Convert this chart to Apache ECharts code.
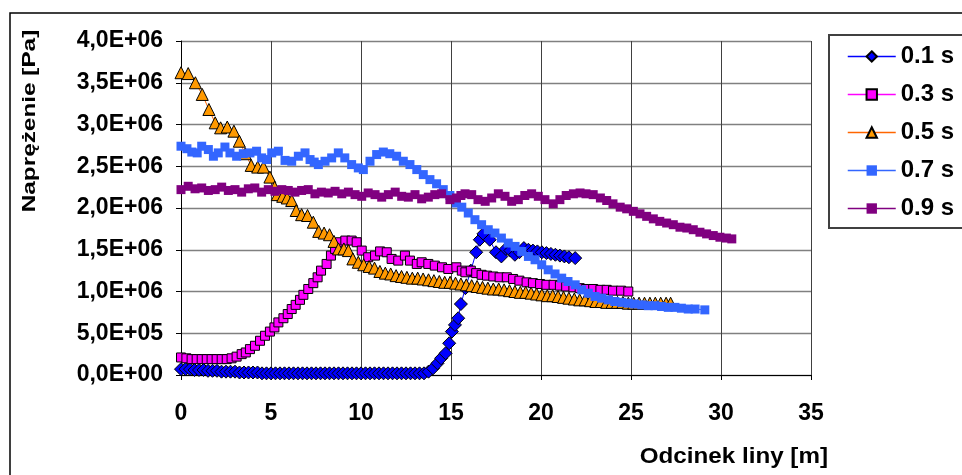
<!DOCTYPE html>
<html><head><meta charset="utf-8">
<script src="https://cdn.jsdelivr.net/npm/echarts@6/dist/echarts.min.js"></script>
<style>html,body{margin:0;padding:0;background:#fff}#c{width:962px;height:475px}</style>
</head><body><div id="c"></div>
<script>
// Values: [position along rope (m), stress (x1E+06 Pa)]
const seriesNames = ['0.1 s', '0.3 s', '0.5 s', '0.7 s', '0.9 s'];
const xTickValues = [0, 5, 10, 15, 20, 25, 30, 35];
const yTickValues = [0, 0.5, 1, 1.5, 2, 2.5, 3, 3.5, 4];

const s01 = [[0,0.07],[0.25,0.07],[0.5,0.07],[0.75,0.06],[1,0.06],[1.25,0.06],[1.5,0.05],[1.75,0.05],[2,0.05],[2.25,0.04],[2.5,0.04],[2.75,0.04],[3,0.04],[3.25,0.03],[3.5,0.03],[3.75,0.03],[4,0.03],[4.25,0.03],[4.5,0.02],[4.75,0.02],[5,0.02],[5.25,0.02],[5.5,0.02],[5.75,0.02],[6,0.02],[6.25,0.02],[6.5,0.02],[6.75,0.02],[7,0.02],[7.25,0.02],[7.5,0.02],[7.75,0.02],[8,0.02],[8.25,0.02],[8.5,0.02],[8.75,0.02],[9,0.02],[9.25,0.02],[9.5,0.02],[9.75,0.02],[10,0.02],[10.25,0.02],[10.5,0.02],[10.75,0.02],[11,0.02],[11.25,0.02],[11.5,0.02],[11.75,0.02],[12,0.02],[12.25,0.02],[12.5,0.02],[12.75,0.02],[13,0.02],[13.25,0.02],[13.5,0.02],[13.75,0.04],[14,0.08],[14.25,0.14],[14.45,0.2],[14.7,0.26],[14.9,0.38],[15.05,0.52],[15.22,0.6],[15.4,0.68],[15.55,0.85],[15.8,1.04],[16.1,1.25],[16.4,1.47],[16.6,1.62],[16.8,1.69],[17.15,1.62],[17.5,1.47],[17.8,1.42],[18.05,1.51],[18.3,1.49],[18.55,1.44],[18.8,1.47],[19.05,1.52],[19.3,1.5],[19.55,1.49],[19.8,1.48],[20.05,1.47],[20.3,1.46],[20.55,1.45],[20.8,1.44],[21.05,1.43],[21.3,1.42],[21.55,1.41],[21.9,1.4]];

const s03 = [[0,0.21],[0.3,0.2],[0.59,0.19],[0.87,0.19],[1.15,0.19],[1.43,0.19],[1.7,0.19],[1.98,0.19],[2.26,0.19],[2.54,0.19],[2.81,0.2],[3.09,0.22],[3.37,0.25],[3.6,0.27],[3.83,0.31],[4.11,0.35],[4.39,0.41],[4.67,0.47],[4.94,0.52],[5.19,0.57],[5.41,0.63],[5.69,0.68],[5.93,0.73],[6.15,0.79],[6.37,0.84],[6.61,0.9],[6.8,0.96],[7.07,1.03],[7.35,1.1],[7.59,1.17],[7.78,1.25],[8.09,1.33],[8.33,1.43],[8.56,1.51],[8.83,1.59],[9.13,1.61],[9.48,1.61],[9.76,1.59],[10.04,1.49],[10.4,1.41],[10.78,1.43],[11.06,1.48],[11.43,1.47],[11.7,1.39],[12.07,1.37],[12.44,1.43],[12.72,1.37],[13.1,1.33],[13.37,1.35],[13.74,1.33],[14.1,1.31],[14.5,1.29],[14.85,1.27],[15.3,1.29],[15.6,1.25],[15.8,1.23],[16.1,1.25],[16.4,1.22],[16.7,1.2],[17,1.19],[17.35,1.18],[17.7,1.17],[18.1,1.17],[18.45,1.15],[18.8,1.13],[19.2,1.11],[19.55,1.1],[19.95,1.09],[20.3,1.08],[20.7,1.08],[21.05,1.07],[21.4,1.06],[21.8,1.05],[22.15,1.04],[22.5,1.03],[22.9,1.03],[23.3,1.02],[23.65,1.02],[24,1.01],[24.45,1.01],[24.85,1]];

const s05 = [[0,3.62],[0.4,3.61],[0.8,3.5],[1.18,3.36],[1.55,3.18],[1.9,3.02],[2.2,2.96],[2.57,2.97],[2.94,2.92],[3.24,2.8],[3.57,2.65],[3.9,2.51],[4.26,2.49],[4.58,2.49],[4.94,2.37],[5.2,2.25],[5.35,2.16],[5.65,2.14],[5.9,2.12],[6.15,2.09],[6.4,1.97],[6.7,1.92],[7.03,1.91],[7.35,1.83],[7.65,1.72],[7.95,1.7],[8.25,1.68],[8.5,1.6],[8.75,1.51],[9.05,1.51],[9.3,1.49],[9.55,1.39],[9.85,1.35],[10.15,1.32],[10.45,1.3],[10.75,1.28],[11.05,1.24],[11.35,1.22],[11.65,1.21],[11.95,1.19],[12.25,1.18],[12.55,1.17],[12.85,1.16],[13.15,1.16],[13.45,1.15],[13.75,1.14],[14.05,1.13],[14.35,1.12],[14.65,1.11],[14.95,1.11],[15.25,1.1],[15.55,1.09],[15.85,1.08],[16.15,1.07],[16.45,1.06],[16.75,1.05],[17.05,1.04],[17.35,1.03],[17.65,1.03],[17.95,1.02],[18.25,1.01],[18.55,1],[18.85,0.99],[19.15,0.99],[19.45,0.98],[19.75,0.97],[20.05,0.96],[20.35,0.95],[20.65,0.95],[20.95,0.94],[21.25,0.93],[21.55,0.92],[21.85,0.91],[22.15,0.9],[22.45,0.9],[22.75,0.89],[23.05,0.88],[23.35,0.88],[23.65,0.87],[23.95,0.87],[24.25,0.87],[24.55,0.87],[24.85,0.86],[25.15,0.86],[25.45,0.86],[25.75,0.86],[26.05,0.86],[26.35,0.86],[26.65,0.86],[26.95,0.86],[27.2,0.86]];

const s07 = [[0,2.74],[0.33,2.71],[0.6,2.67],[0.9,2.66],[1.15,2.74],[1.52,2.7],[1.8,2.62],[2.07,2.66],[2.44,2.73],[2.72,2.66],[3.09,2.62],[3.46,2.65],[3.83,2.66],[4.2,2.68],[4.48,2.6],[4.76,2.58],[5.04,2.66],[5.41,2.68],[5.78,2.57],[6.15,2.56],[6.52,2.62],[6.89,2.66],[7.17,2.58],[7.4,2.55],[7.63,2.52],[8,2.56],[8.37,2.6],[8.74,2.66],[9.1,2.6],[9.48,2.52],[9.85,2.48],[10.13,2.46],[10.5,2.56],[10.87,2.64],[11.24,2.67],[11.6,2.65],[11.98,2.62],[12.35,2.56],[12.72,2.52],[13.1,2.46],[13.46,2.4],[13.83,2.34],[14.2,2.29],[14.57,2.22],[14.94,2.15],[15.3,2.06],[15.6,2.01],[15.96,1.94],[16.33,1.86],[16.7,1.8],[17.07,1.74],[17.44,1.7],[17.8,1.64],[18.18,1.58],[18.56,1.54],[18.93,1.48],[19.3,1.42],[19.67,1.38],[20.04,1.32],[20.4,1.26],[20.78,1.21],[21.15,1.16],[21.5,1.12],[21.9,1.08],[22.26,1.02],[22.63,0.98],[23,0.94],[23.37,0.92],[23.74,0.9],[24.1,0.88],[24.48,0.87],[24.85,0.86],[25.2,0.85],[25.6,0.84],[25.96,0.83],[26.33,0.83],[26.7,0.82],[27.07,0.81],[27.44,0.81],[27.8,0.8],[28.18,0.79],[28.56,0.79],[29.1,0.78]];

const s09 = [[0,2.22],[0.4,2.26],[0.78,2.23],[1.15,2.24],[1.52,2.21],[1.9,2.22],[2.26,2.25],[2.63,2.21],[3,2.22],[3.37,2.19],[3.74,2.23],[4.1,2.24],[4.48,2.19],[4.85,2.22],[5.22,2.2],[5.6,2.22],[5.96,2.21],[6.33,2.19],[6.7,2.21],[7.07,2.22],[7.44,2.17],[7.8,2.19],[8.18,2.18],[8.56,2.2],[8.93,2.17],[9.3,2.19],[9.67,2.16],[10.04,2.14],[10.4,2.18],[10.78,2.16],[11.15,2.13],[11.52,2.16],[11.9,2.19],[12.26,2.14],[12.63,2.13],[13,2.16],[13.37,2.11],[13.74,2.13],[14.1,2.16],[14.48,2.17],[14.94,2.1],[15.3,2.12],[15.55,2.15],[15.78,2.17],[16.15,2.16],[16.5,2.1],[16.9,2.08],[17.26,2.12],[17.63,2.17],[18,2.14],[18.37,2.08],[18.74,2.1],[19.1,2.15],[19.48,2.17],[19.85,2.14],[20.22,2.1],[20.68,2.05],[21.05,2.1],[21.4,2.15],[21.8,2.17],[22.17,2.18],[22.5,2.17],[22.9,2.16],[23.3,2.12],[23.65,2.09],[24,2.05],[24.4,2.01],[24.76,1.99],[25.13,1.96],[25.5,1.93],[25.87,1.9],[26.24,1.87],[26.6,1.84],[26.98,1.82],[27.35,1.8],[27.72,1.77],[28.1,1.76],[28.46,1.74],[28.83,1.71],[29.2,1.69],[29.57,1.67],[29.94,1.65],[30.3,1.64],[30.6,1.63]];

const seriesData = [s01, s03, s05, s07, s09];
const symbols = ['diamond', 'rect', 'triangle', 'rect', 'rect'];
const symbolSizes = [13, 9, 12, 9, 9];
const fillColors = ['#0000FF', '#FF00FF', '#FF9900', '#3366FF', '#800080'];
const lineColors = ['#0000FF', '#FF00FF', '#FF6600', '#3366FF', '#800080'];
const borderWidths = [1, 1, 1, 0, 0];

const FONT = '"Liberation Sans", Arial, sans-serif';

function sci(v) {
  if (v === 0) return '0,0E+00';
  const p = Math.round(v * 1e6);
  const e = Math.floor(Math.log10(p) + 1e-9);
  const m = p / Math.pow(10, e);
  return m.toFixed(1).replace('.', ',') + 'E+' + (e < 10 ? '0' : '') + e;
}

const chart = echarts.init(document.getElementById('c'), null, {renderer: 'canvas'});
chart.setOption({
  animation: false,
  backgroundColor: '#ffffff',
  grid: {left: 181, right: 151, top: 41, bottom: 100, containLabel: false, outerBoundsMode: 'none'},
  xAxis: {
    type: 'value', min: 0, max: 35, interval: 5,
    axisLine: {show: true, onZero: false, lineStyle: {color: '#000', width: 1}},
    axisTick: {show: true, inside: false, length: 5, lineStyle: {color: '#000'}},
    axisLabel: {margin: 27, fontSize: 23, fontWeight: 'bold', color: '#000', fontFamily: FONT},
    splitLine: {show: true, lineStyle: {color: '#404040', width: 1}}
  },
  yAxis: {
    type: 'value', min: 0, max: 4, interval: 0.5,
    axisLine: {show: true, onZero: false, lineStyle: {color: '#000', width: 1}},
    axisTick: {show: true, inside: false, length: 5, lineStyle: {color: '#000'}},
    axisLabel: {margin: 18, fontSize: 23, fontWeight: 'bold', color: '#000', fontFamily: FONT, formatter: sci},
    splitLine: {show: true, lineStyle: {color: '#808080', width: 1.3}}
  },
  legend: {
    orient: 'vertical', left: 847, top: 44, padding: 0,
    itemWidth: 48, itemHeight: 13, itemGap: 13,
    data: seriesNames,
    textStyle: {fontSize: 24, fontWeight: 'bold', color: '#000', fontFamily: FONT, lineHeight: 25},
    lineStyle: {width: 1.5}
  },
  graphic: [
    {type: 'rect', z: -10, shape: {x: 10, y: 13, width: 1000, height: 500}, style: {fill: 'none', stroke: '#000', lineWidth: 1.5}},
    {type: 'rect', z: -10, shape: {x: 829, y: 35, width: 200, height: 193}, style: {fill: 'none', stroke: '#404040', lineWidth: 2}},
    {type: 'text', x: 29.5, y: 121, rotation: Math.PI / 2, scaleX: 1.28,
      style: {text: 'Naprężenie [Pa]', font: 'bold 19px ' + FONT, align: 'center', verticalAlign: 'middle', fill: '#000'}},
    {type: 'text', x: 828, y: 457, scaleX: 1.1,
      style: {text: 'Odcinek liny [m]', font: 'bold 22px ' + FONT, align: 'right', verticalAlign: 'middle', fill: '#000'}}
  ],
  series: seriesNames.map((name, i) => ({
    name: name, type: 'line', data: seriesData[i],
    symbol: symbols[i], symbolSize: symbolSizes[i], showAllSymbol: true,
    lineStyle: {color: lineColors[i], width: 1},
    itemStyle: {color: fillColors[i], borderColor: '#000', borderWidth: borderWidths[i]},
    emphasis: {disabled: true}
  }))
});
</script></body></html>
